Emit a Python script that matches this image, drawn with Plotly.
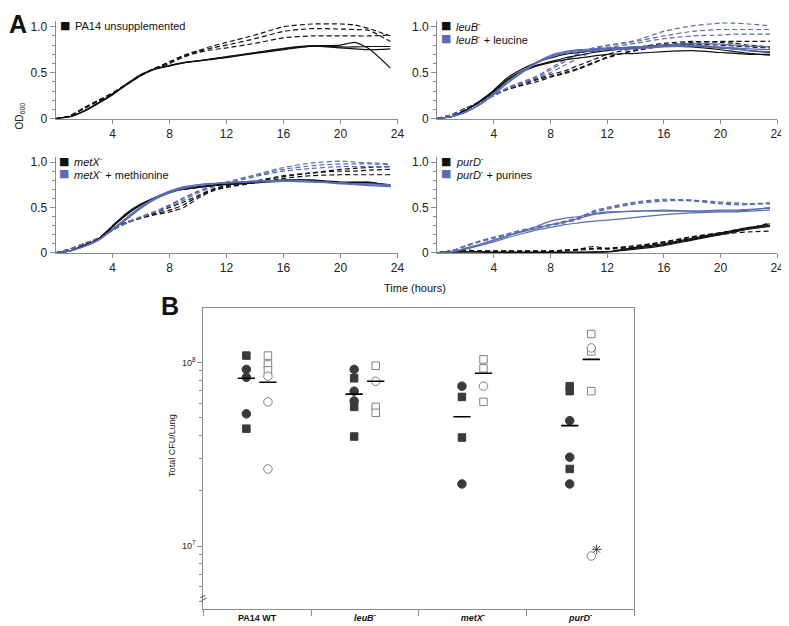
import plotly.graph_objects as go

# ---------------- Panel A data (OD600 vs time) ----------------
T = [0, 1, 2, 3, 4, 5, 6, 7, 8, 9, 10, 11, 12, 14, 16, 18, 20, 21, 22, 23.5]

pa14_solid = [
    [0, 0.02, 0.08, 0.17, 0.27, 0.38, 0.48, 0.54, 0.575, 0.605, 0.63, 0.65, 0.67, 0.715, 0.76, 0.79, 0.80, 0.83, 0.76, 0.55],
    [0, 0.02, 0.085, 0.17, 0.26, 0.37, 0.47, 0.54, 0.58, 0.61, 0.625, 0.645, 0.665, 0.71, 0.75, 0.79, 0.77, 0.76, 0.75, 0.76],
    [0, 0.02, 0.08, 0.165, 0.26, 0.375, 0.475, 0.545, 0.575, 0.61, 0.63, 0.65, 0.675, 0.72, 0.765, 0.795, 0.78, 0.78, 0.785, 0.785],
]
pa14_dash = [
    [0, 0.03, 0.12, 0.20, 0.28, 0.38, 0.48, 0.55, 0.62, 0.69, 0.74, 0.79, 0.83, 0.91, 1.00, 1.03, 1.03, 1.02, 0.98, 0.90],
    [0, 0.03, 0.11, 0.19, 0.27, 0.375, 0.47, 0.55, 0.61, 0.68, 0.73, 0.77, 0.80, 0.87, 0.95, 0.98, 0.975, 0.97, 0.96, 0.84],
    [0, 0.03, 0.11, 0.19, 0.27, 0.37, 0.47, 0.545, 0.60, 0.67, 0.72, 0.75, 0.77, 0.82, 0.88, 0.90, 0.90, 0.90, 0.90, 0.91],
]

leub_solid = [
    [0, 0.02, 0.09, 0.19, 0.31, 0.45, 0.54, 0.61, 0.66, 0.70, 0.72, 0.74, 0.76, 0.78, 0.80, 0.80, 0.77, 0.76, 0.74, 0.72],
    [0, 0.02, 0.09, 0.18, 0.29, 0.42, 0.51, 0.57, 0.61, 0.64, 0.66, 0.68, 0.70, 0.71, 0.73, 0.74, 0.72, 0.71, 0.70, 0.70],
    [0, 0.02, 0.09, 0.19, 0.30, 0.43, 0.52, 0.58, 0.62, 0.66, 0.69, 0.72, 0.74, 0.77, 0.79, 0.78, 0.75, 0.73, 0.71, 0.69],
]
leub_dash = [
    [0, 0.04, 0.11, 0.18, 0.26, 0.32, 0.37, 0.42, 0.46, 0.50, 0.55, 0.61, 0.66, 0.75, 0.80, 0.83, 0.84, 0.84, 0.84, 0.84],
    [0, 0.04, 0.11, 0.18, 0.25, 0.32, 0.36, 0.40, 0.45, 0.49, 0.54, 0.60, 0.67, 0.74, 0.79, 0.81, 0.80, 0.79, 0.78, 0.77],
    [0, 0.04, 0.11, 0.18, 0.26, 0.33, 0.38, 0.43, 0.48, 0.52, 0.58, 0.64, 0.70, 0.77, 0.82, 0.84, 0.83, 0.82, 0.80, 0.78],
]
leucine_solid = [
    [0, 0.02, 0.07, 0.15, 0.27, 0.40, 0.51, 0.61, 0.69, 0.73, 0.75, 0.76, 0.77, 0.78, 0.80, 0.82, 0.81, 0.80, 0.79, 0.78],
    [0, 0.02, 0.07, 0.16, 0.27, 0.40, 0.52, 0.61, 0.68, 0.72, 0.74, 0.75, 0.76, 0.77, 0.79, 0.80, 0.78, 0.77, 0.76, 0.75],
    [0, 0.02, 0.07, 0.15, 0.26, 0.39, 0.50, 0.60, 0.67, 0.71, 0.73, 0.74, 0.75, 0.76, 0.78, 0.79, 0.77, 0.76, 0.74, 0.73],
]
leucine_dash = [
    [0, 0.04, 0.10, 0.18, 0.25, 0.34, 0.40, 0.46, 0.55, 0.64, 0.71, 0.77, 0.80, 0.85, 0.95, 1.01, 1.04, 1.04, 1.03, 1.01],
    [0, 0.04, 0.10, 0.18, 0.25, 0.33, 0.39, 0.45, 0.53, 0.62, 0.70, 0.76, 0.79, 0.84, 0.90, 0.95, 0.97, 0.97, 0.97, 0.97],
    [0, 0.04, 0.10, 0.17, 0.25, 0.33, 0.38, 0.44, 0.50, 0.58, 0.66, 0.73, 0.77, 0.82, 0.87, 0.90, 0.91, 0.92, 0.92, 0.92],
]

metx_solid = [
    [0, 0.02, 0.08, 0.15, 0.30, 0.44, 0.54, 0.61, 0.675, 0.71, 0.73, 0.745, 0.76, 0.78, 0.80, 0.80, 0.77, 0.775, 0.78, 0.74],
    [0, 0.02, 0.08, 0.15, 0.29, 0.43, 0.53, 0.61, 0.67, 0.70, 0.72, 0.74, 0.75, 0.77, 0.79, 0.79, 0.77, 0.77, 0.77, 0.75],
    [0, 0.02, 0.08, 0.15, 0.29, 0.42, 0.53, 0.60, 0.66, 0.70, 0.72, 0.74, 0.76, 0.78, 0.80, 0.80, 0.78, 0.78, 0.77, 0.74],
]
metx_dash = [
    [0, 0.04, 0.10, 0.16, 0.26, 0.33, 0.38, 0.42, 0.45, 0.50, 0.60, 0.68, 0.72, 0.77, 0.82, 0.85, 0.86, 0.86, 0.86, 0.86],
    [0, 0.04, 0.10, 0.16, 0.26, 0.33, 0.39, 0.43, 0.47, 0.53, 0.62, 0.69, 0.73, 0.78, 0.84, 0.88, 0.90, 0.90, 0.91, 0.92],
    [0, 0.04, 0.10, 0.16, 0.27, 0.34, 0.39, 0.44, 0.50, 0.56, 0.63, 0.70, 0.74, 0.79, 0.85, 0.88, 0.92, 0.93, 0.94, 0.95],
]
methionine_solid = [
    [0, 0.02, 0.07, 0.14, 0.26, 0.38, 0.50, 0.60, 0.67, 0.72, 0.75, 0.765, 0.77, 0.79, 0.79, 0.78, 0.77, 0.76, 0.75, 0.74],
    [0, 0.02, 0.07, 0.14, 0.26, 0.39, 0.51, 0.61, 0.68, 0.73, 0.75, 0.76, 0.775, 0.79, 0.80, 0.79, 0.77, 0.76, 0.76, 0.75],
    [0, 0.02, 0.07, 0.14, 0.25, 0.37, 0.49, 0.59, 0.66, 0.71, 0.74, 0.76, 0.77, 0.78, 0.79, 0.78, 0.76, 0.75, 0.74, 0.73],
]
methionine_dash = [
    [0, 0.04, 0.10, 0.16, 0.25, 0.33, 0.39, 0.45, 0.51, 0.58, 0.66, 0.72, 0.76, 0.84, 0.90, 0.93, 0.95, 0.95, 0.95, 0.95],
    [0, 0.04, 0.10, 0.16, 0.25, 0.33, 0.39, 0.45, 0.52, 0.60, 0.67, 0.73, 0.77, 0.85, 0.92, 0.96, 0.98, 0.98, 0.98, 0.97],
    [0, 0.04, 0.10, 0.16, 0.25, 0.33, 0.40, 0.46, 0.53, 0.61, 0.68, 0.74, 0.78, 0.86, 0.94, 0.99, 1.01, 1.00, 0.99, 0.98],
]

purd_solid = [
    [0, 0.01, 0.01, 0.01, 0.005, 0.005, 0.005, 0.005, 0.005, 0.005, 0.005, 0.008, 0.01, 0.05, 0.09, 0.15, 0.21, 0.24, 0.27, 0.32],
    [0, 0.01, 0.01, 0.01, 0.005, 0.005, 0.005, 0.005, 0.005, 0.005, 0.005, 0.008, 0.012, 0.06, 0.10, 0.16, 0.22, 0.25, 0.28, 0.30],
    [0, 0.01, 0.01, 0.01, 0.005, 0.005, 0.005, 0.005, 0.005, 0.005, 0.005, 0.008, 0.01, 0.04, 0.08, 0.14, 0.20, 0.23, 0.26, 0.29],
]
purd_dash = [
    [0, 0.02, 0.03, 0.02, 0.02, 0.02, 0.02, 0.02, 0.02, 0.03, 0.04, 0.07, 0.05, 0.07, 0.12, 0.17, 0.22, 0.24, 0.27, 0.33],
    [0, 0.02, 0.03, 0.02, 0.02, 0.02, 0.02, 0.02, 0.02, 0.03, 0.04, 0.05, 0.04, 0.06, 0.11, 0.15, 0.20, 0.22, 0.23, 0.24],
    [0, 0.02, 0.02, 0.02, 0.02, 0.02, 0.02, 0.02, 0.02, 0.02, 0.03, 0.04, 0.05, 0.08, 0.12, 0.18, 0.22, 0.25, 0.27, 0.30],
]
purines_solid = [
    [0, 0.01, 0.05, 0.09, 0.14, 0.19, 0.23, 0.27, 0.31, 0.34, 0.38, 0.42, 0.44, 0.46, 0.46, 0.46, 0.46, 0.46, 0.47, 0.50],
    [0, 0.01, 0.05, 0.09, 0.14, 0.19, 0.24, 0.29, 0.35, 0.38, 0.40, 0.43, 0.45, 0.46, 0.47, 0.46, 0.47, 0.47, 0.48, 0.49],
    [0, 0.01, 0.04, 0.08, 0.12, 0.17, 0.21, 0.25, 0.28, 0.31, 0.33, 0.35, 0.36, 0.39, 0.42, 0.44, 0.45, 0.45, 0.46, 0.47],
]
purines_dash = [
    [0, 0.02, 0.08, 0.13, 0.17, 0.21, 0.25, 0.28, 0.31, 0.34, 0.38, 0.45, 0.49, 0.55, 0.58, 0.57, 0.54, 0.53, 0.53, 0.55],
    [0, 0.02, 0.08, 0.13, 0.17, 0.21, 0.25, 0.28, 0.31, 0.35, 0.39, 0.46, 0.50, 0.56, 0.59, 0.58, 0.55, 0.54, 0.54, 0.55],
    [0, 0.02, 0.07, 0.12, 0.16, 0.20, 0.24, 0.27, 0.30, 0.33, 0.37, 0.44, 0.48, 0.54, 0.57, 0.58, 0.56, 0.55, 0.54, 0.54],
]

time_ticks = [4, 8, 12, 16, 20, 24]
od_ticks = [0, 0.5, 1.0]
od_tick_labels = ["0", "0.5", "1.0"]

legend_labels = [
    ["PA14 unsupplemented"],
    ["<i>leuB</i><sup>-</sup>", "<i>leuB</i><sup>-</sup> + leucine"],
    ["<i>metX</i><sup>-</sup>", "<i>metX</i><sup>-</sup> + methionine"],
    ["<i>purD</i><sup>-</sup>", "<i>purD</i><sup>-</sup> + purines"],
]

# ---------------- Panel B data (Total CFU / lung) ----------------
categories = ["PA14 WT", "leuB", "metX", "purD"]
category_labels = ["<b>PA14 WT</b>", "<b><i>leuB</i><sup>-</sup></b>",
                   "<b><i>metX</i><sup>-</sup></b>", "<b><i>purD</i><sup>-</sup></b>"]
filled_circles = [[9.17e7, 8.3e7, 5.25e7], [9.17e7, 6.98e7, 6.17e7], [7.43e7, 2.18e7], [4.82e7, 3.05e7, 2.18e7]]
filled_squares = [[1.09e8, 4.36e7], [8.2e7, 5.73e7, 3.95e7], [6.49e7, 3.9e7], [7.43e7, 6.98e7, 2.63e7]]
open_circles = [[8.41e7, 6.1e7, 2.63e7], [7.9e7], [7.43e7], [1.2e8, 8.83e6]]
open_squares = [[1.09e8, 9.75e7, 9.06e7], [9.6e7, 5.73e7, 5.32e7], [1.04e8, 9.29e7, 6.1e7], [1.43e8, 1.15e8, 6.98e7]]
filled_means = [8.2e7, 6.72e7, 5.06e7, 4.53e7]
open_means = [7.8e7, 7.9e7, 8.73e7, 1.04e8]
purd_flagged = [9.6e6]
cfu_ticks = [1e7, 1e8]
cfu_tick_labels = ["10<sup>7</sup>", "10<sup>8</sup>"]
cfu_minor = [5e6, 6e6, 7e6, 8e6, 9e6, 2e7, 3e7, 4e7, 5e7, 6e7, 7e7, 8e7, 9e7]

# ---------------- styling ----------------
BLACK = "#111111"
BLUE = "#5a6db3"
AXIS = "#8c8c8c"
DARK = "#3a3a3a"
FONT = "Liberation Sans, Arial, sans-serif"
W, H = 789, 626

fig = go.Figure()


def add_group(curves, color, dash, xa, ya):
    for c in curves:
        fig.add_trace(go.Scatter(
            x=T, y=c, mode="lines", xaxis=xa, yaxis=ya, showlegend=False,
            line=dict(color=color, width=1.2, dash=dash, shape="spline", smoothing=0.6),
            hoverinfo="skip"))


DASH = "5px,3px"
add_group(pa14_solid, BLACK, "solid", "x", "y")
add_group(pa14_dash, BLACK, DASH, "x", "y")

add_group(leub_dash, BLACK, DASH, "x2", "y2")
add_group(leucine_dash, BLUE, DASH, "x2", "y2")
add_group(leub_solid, BLACK, "solid", "x2", "y2")
add_group(leucine_solid, BLUE, "solid", "x2", "y2")

add_group(metx_dash, BLACK, DASH, "x3", "y3")
add_group(methionine_dash, BLUE, DASH, "x3", "y3")
add_group(metx_solid, BLACK, "solid", "x3", "y3")
add_group(methionine_solid, BLUE, "solid", "x3", "y3")

add_group(purd_dash, BLACK, DASH, "x4", "y4")
add_group(purines_dash, BLUE, DASH, "x4", "y4")
add_group(purd_solid, BLACK, "solid", "x4", "y4")
add_group(purines_solid, BLUE, "solid", "x4", "y4")

# Panel B points
OFF = 0.1


def xs(groups, off):
    out_x, out_y = [], []
    for i, g in enumerate(groups):
        for v in g:
            out_x.append(i + off)
            out_y.append(v)
    return out_x, out_y


for groups, off, sym, fill, lc in [
    (filled_squares, -OFF, "square", DARK, DARK),
    (filled_circles, -OFF, "circle", DARK, DARK),
    (open_squares, OFF, "square", "white", "#808080"),
    (open_circles, OFF, "circle", "white", "#808080"),
]:
    x, y = xs(groups, off)
    fig.add_trace(go.Scatter(
        x=x, y=y, mode="markers", xaxis="x5", yaxis="y5", showlegend=False,
        marker=dict(symbol=sym, size=8.5 if sym == "circle" else 7.5, color=fill,
                    line=dict(color=lc, width=1))))

# mean bars
for means, off in [(filled_means, -OFF), (open_means, OFF)]:
    mx, my = [], []
    for i, m in enumerate(means):
        mx += [i + off - 0.08, i + off + 0.08, None]
        my += [m, m, None]
    fig.add_trace(go.Scatter(x=mx, y=my, mode="lines", xaxis="x5", yaxis="y5",
                             showlegend=False, line=dict(color="black", width=1.6)))

fig.add_trace(go.Scatter(
    x=[3 + OFF + 0.05] * len(purd_flagged), y=purd_flagged, mode="markers",
    xaxis="x5", yaxis="y5", showlegend=False,
    marker=dict(symbol="asterisk-open", size=8, color="#444",
                line=dict(color="#444", width=1))))

# ---------------- axes ----------------
def px_x(p):
    return p / W


def px_y(p):
    return 1 - p / H


YTOP = 1.06
base_x = dict(range=[0, 24], tickvals=time_ticks, showline=True, linecolor=AXIS,
              linewidth=1, ticks="outside", ticklen=4, tickcolor=AXIS, showgrid=False,
              zeroline=False, ticklabeloverflow="allow",
              tickfont=dict(size=12, color="#222", family=FONT))
base_y = dict(range=[0, YTOP], tickvals=od_ticks, ticktext=od_tick_labels, showline=True,
              linecolor=AXIS, linewidth=1, ticks="outside", ticklen=5, tickcolor=AXIS,
              showgrid=False, zeroline=False,
              tickfont=dict(size=12, color="#222", family=FONT),
              minor=dict(tickvals=[0.1, 0.2, 0.3, 0.4, 0.6, 0.7, 0.8, 0.9],
                         ticks="outside", ticklen=3, tickcolor=AXIS))

left_x = [px_x(48), px_x(393)]
right_x = [px_x(433), px_x(776)]
top_y = [px_y(111), px_y(111 - YTOP * 93)]
bot_y = [px_y(247), px_y(247 - YTOP * 92)]

fig.update_layout(
    xaxis=dict(base_x, domain=left_x, anchor="y"),
    yaxis=dict(base_y, domain=top_y, anchor="x"),
    xaxis2=dict(base_x, domain=right_x, anchor="y2"),
    yaxis2=dict(base_y, domain=top_y, anchor="x2"),
    xaxis3=dict(base_x, domain=left_x, anchor="y3"),
    yaxis3=dict(base_y, domain=bot_y, anchor="x3"),
    xaxis4=dict(base_x, domain=right_x, anchor="y4"),
    yaxis4=dict(base_y, domain=bot_y, anchor="x4"),
    xaxis5=dict(domain=[px_x(197), px_x(632)], anchor="y5", range=[-0.5, 3.5],
                tickvals=[0, 1, 2, 3], ticktext=category_labels, ticks="",
                showline=True, mirror=True, linecolor=AXIS, linewidth=1,
                showgrid=False, zeroline=False,
                tickfont=dict(size=9, color="#111", family=FONT),
                minor=dict(tickvals=[-0.5, 0.5, 1.5, 2.5, 3.5], ticks="outside",
                           ticklen=6, tickcolor=AXIS)),
    yaxis5=dict(domain=[px_y(608), px_y(303)], anchor="x5", type="log",
                range=[6.656, 8.296], tickvals=cfu_ticks, ticktext=cfu_tick_labels,
                showline=True, mirror=True, linecolor=AXIS, linewidth=1,
                ticks="outside", ticklen=5, tickcolor=AXIS, showgrid=False,
                zeroline=False, tickfont=dict(size=9, color="#222", family=FONT),
                minor=dict(tickvals=cfu_minor, ticks="outside", ticklen=3,
                           tickcolor=AXIS)),
    width=W, height=H, margin=dict(l=0, r=0, t=0, b=0),
    paper_bgcolor="white", plot_bgcolor="white", showlegend=False,
    font=dict(family=FONT, color="#111"),
)

ann = [
    dict(text="<b>A</b>", x=px_x(0), y=px_y(0), xref="paper", yref="paper",
         xanchor="left", yanchor="top", showarrow=False, borderpad=0,
         font=dict(size=25, family="Liberation Sans Narrow, " + FONT, color="#111")),
    dict(text="<b>B</b>", x=px_x(153), y=px_y(286), xref="paper", yref="paper",
         xanchor="left", yanchor="top", showarrow=False, borderpad=0,
         font=dict(size=25, family="Liberation Sans Narrow, " + FONT, color="#111")),
    dict(text="OD<sub>600</sub>", x=px_x(12), y=px_y(108), xref="paper", yref="paper",
         xanchor="center", yanchor="middle",
         textangle=-90, showarrow=False, font=dict(size=10, color="#222")),
    dict(text="Time (hours)", x=px_x(411), y=px_y(283), xref="paper", yref="paper",
         xanchor="center", yanchor="middle",
         showarrow=False, font=dict(size=11, color="#111")),
    dict(text="Total CFU/Lung", x=px_x(166), y=px_y(442), xref="paper", yref="paper",
         xanchor="center", yanchor="middle",
         textangle=-90, showarrow=False, font=dict(size=9, color="#222")),
    dict(text="=", x=px_x(197), xref="paper", y=6.715, yref="y5", textangle=-25,
         xanchor="center", yanchor="middle",
         showarrow=False, font=dict(size=12, color="#555")),
]

# per-panel key (square swatch + label)
key_pos = [(58, 17), (442, 17), (57, 154), (442, 154)]
key_colors = [BLACK, BLUE]
for (kx, ky), labels in zip(key_pos, legend_labels):
    for j, lab in enumerate(labels):
        yy = ky + 13 * j
        ann.append(dict(text="■", x=px_x(kx), y=px_y(yy), xref="paper", yref="paper",
                        xanchor="center", yanchor="middle", showarrow=False,
                        font=dict(size=11, color=key_colors[j], family="DejaVu Sans")))
        ann.append(dict(text=lab, x=px_x(kx + 8), y=px_y(yy), xref="paper", yref="paper",
                        xanchor="left", yanchor="middle", showarrow=False,
                        font=dict(size=11, color="#111", family=FONT)))

fig.update_layout(annotations=ann)

fig.write_html("out.html")
